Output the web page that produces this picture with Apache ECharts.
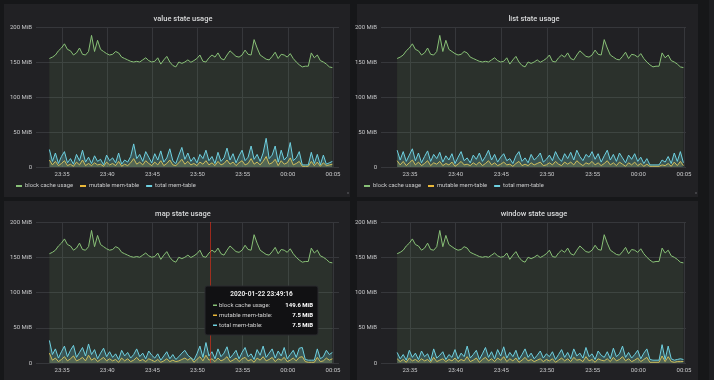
<!DOCTYPE html>
<html>
<head>
<meta charset="utf-8">
<script src="https://cdn.jsdelivr.net/npm/echarts@6/dist/echarts.min.js"></script>
<style>
html,body{margin:0;padding:0;background:#161719;}
#c{width:714px;height:380px;}
</style>
</head>
<body>
<div id="c"></div>
<script>
// ---- data (MiB), one sample every 20 s starting 2020-01-22 23:33:36 ----
const startTime = new Date(2020, 0, 22, 23, 33, 36).getTime();
const stepMs = 20000;
const seriesNames = ['block cache usage', 'mutable mem-table', 'total mem-table'];
const panelTitles = ['value state usage', 'list state usage', 'map state usage', 'window state usage'];
const yTicks = [0, 50, 100, 150, 200];
const xTickLabels = ['23:35', '23:40', '23:45', '23:50', '23:55', '00:00', '00:05'];
const xTickTimes = [
  new Date(2020, 0, 22, 23, 35).getTime(), new Date(2020, 0, 22, 23, 40).getTime(),
  new Date(2020, 0, 22, 23, 45).getTime(), new Date(2020, 0, 22, 23, 50).getTime(),
  new Date(2020, 0, 22, 23, 55).getTime(), new Date(2020, 0, 23, 0, 0).getTime(),
  new Date(2020, 0, 23, 0, 5).getTime()
];

const blockCache = [
  155, 157, 160, 166, 170, 176, 168, 166, 160, 163, 170, 161, 160, 165, 188, 165, 181, 168, 165, 162,
  160, 161, 165, 163, 157, 155, 153, 151, 150, 151, 150, 153, 156, 152, 150, 151, 156, 147, 153, 158,
  150, 145, 143, 150, 148, 150, 153, 149.6, 152, 155, 160, 151, 150, 156, 160, 157, 163, 155, 153, 160,
  166, 162, 158, 157, 160, 167, 161, 160, 182, 170, 160, 157, 154, 153, 158, 164, 155, 161, 160, 157,
  162, 155, 150, 146, 143, 144, 144, 163, 156, 160, 152, 150, 147, 143, 142
];

const valueTotal = [
  25, 8, 20, 5, 15, 22, 6, 12, 4, 18, 9, 24, 7, 14, 5, 16, 8, 11, 3, 17,
  9, 13, 6, 20, 4, 10, 7, 15, 33, 12, 18, 8, 22, 14, 6, 19, 10, 23, 7, 13,
  26, 9, 5, 17, 28, 11, 20, 8, 14, 6, 18, 12, 24, 9, 15, 5, 21, 8, 13, 27,
  10, 19, 6, 16, 24, 9, 14, 30, 11, 18, 8, 20, 41, 12, 17, 30, 7, 24, 10, 15,
  35, 9, 13, 22, 3, 3, 3, 21, 5, 18, 3, 17, 4, 6, 8
];
const valueMutable = [
  10, 3, 8, 2, 5, 9, 2, 4, 1, 7, 3, 10, 2, 5, 2, 6, 3, 4, 1, 7,
  3, 5, 2, 8, 1, 4, 2, 6, 12, 4, 7, 3, 9, 5, 2, 7, 3, 9, 2, 5,
  10, 3, 2, 6, 11, 4, 8, 3, 5, 2, 7, 4, 9, 3, 6, 2, 8, 3, 5, 10,
  4, 7, 2, 6, 9, 3, 5, 12, 4, 7, 3, 8, 15, 4, 6, 11, 2, 9, 4, 6,
  13, 3, 5, 8, 1, 1, 1, 8, 2, 7, 1, 6, 2, 3, 4
];

const listTotal = [
  24, 10, 22, 8, 17, 26, 9, 20, 6, 15, 23, 8, 18, 12, 21, 7, 16, 10, 19, 5,
  14, 22, 9, 13, 6, 17, 11, 20, 8, 15, 24, 10, 18, 7, 14, 19, 9, 12, 5, 16,
  22, 8, 13, 6, 18, 10, 14, 20, 7, 11, 17, 9, 22, 13, 8, 19, 12, 21, 10, 24,
  15, 9, 18, 14, 22, 11, 19, 7, 16, 24, 10, 18, 8, 20, 13, 6, 17, 11, 19, 8,
  14, 5, 12, 3, 3, 3, 3, 10, 7, 15, 5, 20, 8, 22, 6
];
const listMutable = [
  9, 3, 8, 2, 6, 10, 3, 7, 2, 5, 9, 2, 6, 4, 8, 2, 5, 3, 7, 1,
  4, 8, 3, 4, 2, 6, 3, 7, 2, 5, 9, 3, 6, 2, 4, 7, 3, 4, 1, 5,
  8, 2, 4, 2, 6, 3, 5, 7, 2, 3, 6, 3, 8, 4, 2, 7, 4, 7, 3, 9,
  5, 2, 6, 4, 8, 3, 6, 2, 5, 9, 3, 6, 2, 7, 4, 1, 6, 3, 7, 2,
  5, 1, 4, 1, 1, 1, 1, 3, 2, 5, 1, 7, 2, 8, 2
];

const mapTotal = [
  32, 12, 20, 7, 16, 24, 9, 18, 25, 8, 15, 22, 10, 27, 12, 19, 6, 14, 21, 9,
  16, 8, 13, 5, 18, 10, 15, 7, 12, 20, 9, 14, 6, 17, 11, 7, 13, 4, 10, 16,
  6, 12, 5, 9, 14, 18, 11, 7.5, 4, 13, 24, 8, 29, 10, 16, 6, 20, 9, 14, 23,
  7, 12, 18, 6, 15, 22, 9, 13, 5, 19, 11, 24, 8, 14, 20, 7, 17, 10, 22, 6,
  12, 18, 8, 21, 22, 5, 4, 4, 4, 20, 6, 9, 18, 12, 15
];
const mapMutable = [
  14, 4, 7, 2, 5, 9, 3, 6, 10, 3, 5, 8, 3, 11, 4, 7, 2, 5, 8, 3,
  6, 3, 5, 1, 7, 3, 6, 2, 4, 8, 3, 5, 2, 6, 4, 2, 5, 1, 3, 6,
  2, 4, 2, 3, 5, 7, 4, 7.5, 1, 5, 9, 3, 11, 4, 6, 2, 7, 3, 5, 9,
  2, 4, 7, 2, 6, 8, 3, 5, 1, 7, 4, 9, 3, 5, 8, 2, 6, 4, 8, 2,
  4, 7, 3, 8, 9, 2, 1, 1, 1, 8, 2, 3, 7, 4, 6
];

const windowTotal = [
  15, 6, 12, 4, 18, 8, 14, 5, 17, 9, 13, 3, 20, 7, 11, 16, 5, 12, 8, 19,
  6, 14, 9, 24, 7, 12, 18, 5, 13, 22, 8, 16, 6, 19, 10, 23, 7, 15, 9, 18,
  5, 12, 20, 8, 14, 6, 11, 17, 7, 13, 9, 16, 5, 12, 19, 8, 15, 6, 20, 10,
  14, 7, 22, 9, 13, 5, 17, 11, 8, 16, 6, 21, 9, 13, 24, 8, 15, 7, 12, 18,
  6, 14, 20, 5, 4, 4, 4, 26, 5, 24, 6, 4, 5, 6, 5
];
const windowMutable = [
  6, 2, 5, 1, 7, 3, 5, 2, 6, 3, 5, 1, 8, 2, 4, 6, 2, 5, 3, 7,
  2, 5, 3, 9, 2, 4, 7, 1, 5, 8, 3, 6, 2, 7, 4, 9, 2, 6, 3, 7,
  1, 4, 8, 3, 5, 2, 4, 6, 2, 5, 3, 6, 1, 4, 7, 3, 6, 2, 8, 4,
  5, 2, 9, 3, 5, 1, 6, 4, 3, 6, 2, 8, 3, 5, 9, 3, 6, 2, 4, 7,
  2, 5, 8, 1, 1, 1, 1, 10, 2, 9, 2, 1, 2, 2, 2
];

// hovered sample shown in the tooltip of "map state usage"
const hoverIndex = 47;
const crosshairTime = new Date(2020, 0, 22, 23, 51, 23).getTime();

// ---- build ----
const colors = ['#88c077', '#EAB839', '#6ED0E0'];
const fillOpacity = [0.1, 0.18, 0.22];
const panelData = [
  [blockCache, valueMutable, valueTotal],
  [blockCache, listMutable, listTotal],
  [blockCache, mapMutable, mapTotal],
  [blockCache, windowMutable, windowTotal]
];
const layout = [
  { grid: { left: 36, top: 27, width: 303, height: 140 }, min: new Date(2020,0,22,23,32,7).getTime(), max: new Date(2020,0,23,0,5,40).getTime(), titleX: 178, titleY: 10 },
  { grid: { left: 381, top: 27, width: 305, height: 140 }, min: new Date(2020,0,22,23,31,50).getTime(), max: new Date(2020,0,23,0,5,13).getTime(), titleX: 529, titleY: 10 },
  { grid: { left: 36, top: 222, width: 303, height: 141 }, min: new Date(2020,0,22,23,32,7).getTime(), max: new Date(2020,0,23,0,5,40).getTime(), titleX: 178, titleY: 205 },
  { grid: { left: 381, top: 222, width: 305, height: 141 }, min: new Date(2020,0,22,23,31,50).getTime(), max: new Date(2020,0,23,0,5,13).getTime(), titleX: 529, titleY: 205 }
];

function pairs(arr) { return arr.map((v, i) => [startTime + i * stepMs, v]); }
function pad(n) { return (n < 10 ? '0' : '') + n; }
function fullTime(v) {
  const d = new Date(v);
  return d.getFullYear() + '-' + pad(d.getMonth() + 1) + '-' + pad(d.getDate()) + ' ' +
    pad(d.getHours()) + ':' + pad(d.getMinutes()) + ':' + pad(d.getSeconds());
}
function tickLabel(v) {
  let best = -1, bd = Infinity;
  xTickTimes.forEach((t, i) => { const d = Math.abs(t - v); if (d < bd) { bd = d; best = i; } });
  return bd < 1000 ? xTickLabels[best] : '';
}

const gridColor = '#36373b';
const labelColor = '#c7c8ca';
const font = 'Roboto, "Noto Sans", sans-serif';

const grids = [], xAxes = [], yAxes = [], series = [], titles = [];
layout.forEach((p, k) => {
  grids.push(Object.assign({ containLabel: false }, p.grid));
  xAxes.push({
    type: 'value', gridIndex: k, min: p.min, max: p.max,
    axisLine: { show: false },
    axisTick: { show: false, customValues: xTickTimes },
    splitLine: { show: true, lineStyle: { color: gridColor, width: 1 } },
    axisLabel: { color: labelColor, fontSize: 6, fontFamily: font, margin: 4, customValues: xTickTimes, formatter: tickLabel, hideOverlap: false, showMinLabel: true, showMaxLabel: true }
  });
  yAxes.push({
    type: 'value', gridIndex: k, min: yTicks[0], max: yTicks[yTicks.length - 1], interval: yTicks[1] - yTicks[0],
    axisLine: { show: false }, axisTick: { show: false },
    splitLine: { show: true, lineStyle: { color: gridColor, width: 1 } },
    axisLabel: { color: labelColor, fontSize: 6, fontFamily: font, margin: 4, formatter: v => v === 0 ? '0' : v + ' MiB' }
  });
  titles.push({
    text: panelTitles[k], left: p.titleX, top: p.titleY, textAlign: 'center',
    textStyle: { color: '#d8d9da', fontSize: 7.5, fontWeight: 500, fontFamily: font }
  });
  panelData[k].forEach((arr, s) => {
    const ser = {
      name: seriesNames[s], type: 'line', xAxisIndex: k, yAxisIndex: k,
      data: pairs(arr), showSymbol: false, symbol: 'none',
      lineStyle: { width: 1, color: colors[s] }, itemStyle: { color: colors[s] },
      areaStyle: { color: colors[s], opacity: fillOpacity[s] },
      animation: false, silent: true, z: 2 + s
    };
    if (k === 2 && s === 0) {
      ser.markLine = {
        silent: true, symbol: 'none', label: { show: false },
        lineStyle: { color: 'rgba(237,46,24,0.6)', type: 'solid', width: 1 },
        data: [{ xAxis: crosshairTime }]
      };
    }
    series.push(ser);
  });
});

// tooltip box built from the hovered sample
const tipX = 205, tipY = 286;
const tipRows = [
  { name: seriesNames[0], value: blockCache[hoverIndex], color: colors[0] },
  { name: seriesNames[1], value: mapMutable[hoverIndex], color: colors[1] },
  { name: seriesNames[2], value: mapTotal[hoverIndex], color: colors[2] }
];
const TZ = 200;
const tipChildren = [
  { type: 'rect', z: TZ, shape: { x: 0, y: 0, width: 113, height: 49, r: 2 }, style: { fill: '#111113', stroke: '#2a2b2e', lineWidth: 1 } },
  { type: 'text', z: TZ + 1, x: 56.5, y: 5, style: { text: fullTime(startTime + hoverIndex * stepMs), fill: '#e6e6e6', font: 'bold 6.5px Roboto, sans-serif', align: 'center' } }
];
tipRows.forEach((r, i) => {
  const yy = 16 + i * 10;
  tipChildren.push({ type: 'rect', z: TZ + 1, shape: { x: 8, y: yy + 2.5, width: 4, height: 1.5 }, style: { fill: r.color } });
  tipChildren.push({ type: 'text', z: TZ + 1, x: 14, y: yy, style: { text: r.name + ':', fill: '#d0d0d0', font: '6px Roboto, sans-serif' } });
  tipChildren.push({ type: 'text', z: TZ + 1, x: 108, y: yy, style: { text: r.value.toFixed(1) + ' MiB', fill: '#ffffff', font: 'bold 6px Roboto, sans-serif', align: 'right' } });
});

const panelBg = '#212124';
const graphic = {
  elements: [
    { type: 'rect', z: -10, shape: { x: 4, y: 4, width: 346, height: 193 }, style: { fill: panelBg } },
    { type: 'rect', z: -10, shape: { x: 357, y: 4, width: 341, height: 193 }, style: { fill: panelBg } },
    { type: 'rect', z: -10, shape: { x: 4, y: 201, width: 346, height: 182 }, style: { fill: panelBg } },
    { type: 'rect', z: -10, shape: { x: 357, y: 201, width: 341, height: 182 }, style: { fill: panelBg } },
    { type: 'rect', z: -10, shape: { x: 709, y: 0, width: 5, height: 380 }, style: { fill: '#1d1e21' } },
    { type: 'circle', z: 5, shape: { cx: 348, cy: 193, r: 0.8 }, style: { fill: '#6a6a6e' } },
    { type: 'circle', z: 5, shape: { cx: 696, cy: 193, r: 0.8 }, style: { fill: '#6a6a6e' } },
    { type: 'group', x: tipX, y: tipY, z: TZ, children: tipChildren }
  ]
};

const legendBase = {
  icon: 'rect', itemWidth: 6, itemHeight: 2, itemGap: 7, padding: 0,
  textStyle: { color: '#c8c9ca', fontSize: 5.8, fontFamily: font, padding: [0, 0, 0, -2] },
  data: seriesNames.map((n, i) => ({ name: n, itemStyle: { color: colors[i] } })),
  selectedMode: false
};
const legends = [
  Object.assign({}, legendBase, { left: 16, top: 183 }),
  Object.assign({}, legendBase, { left: 364, top: 183 })
];

const chart = echarts.init(document.getElementById('c'), null, { renderer: 'canvas' });
chart.setOption({
  backgroundColor: '#161719',
  animation: false,
  title: titles,
  legend: legends,
  grid: grids,
  xAxis: xAxes,
  yAxis: yAxes,
  series: series,
  graphic: graphic
});
</script>
</body>
</html>
